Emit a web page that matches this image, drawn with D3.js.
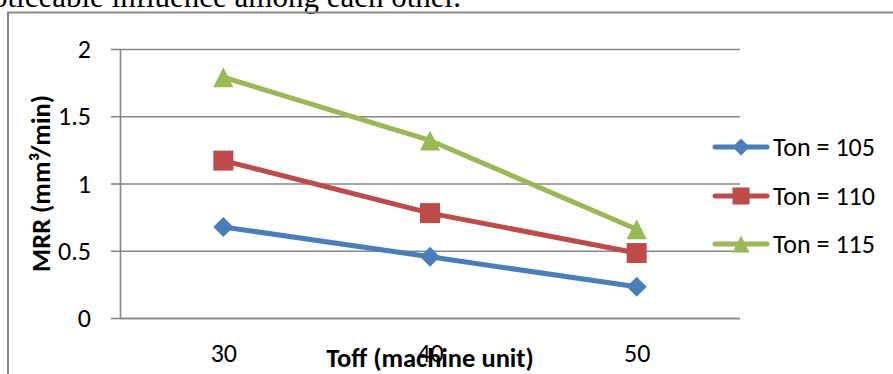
<!DOCTYPE html>
<html>
<head>
<meta charset="utf-8">
<script src="https://cdn.jsdelivr.net/npm/d3@7/dist/d3.min.js"></script>
<style>
  html, body { margin: 0; padding: 0; background: #fff; }
  svg { display: block; }
  .lab { font-family: Calibri, Carlito, Lato, "Open Sans", sans-serif; fill: #000; }
</style>
</head>
<body>
<svg id="chart" width="893" height="374"></svg>
<script>
// ---- data ----
const categories = [30, 40, 50];
const seriesNames = ["Ton = 105", "Ton = 110", "Ton = 115"];
const ton105 = [0.677, 0.455, 0.232];
const ton110 = [1.17, 0.78, 0.483];
const ton115 = [1.79, 1.32, 0.66];
const yTicks = [0, 0.5, 1, 1.5, 2];
const colors = ["#4A7EBB", "#BE4B48", "#98B954"];
const markers = ["diamond", "square", "triangle"];
const xTitle = "Toff (machine unit)";
const yTitle = "MRR (mm³/min)";
const caption = "noticeable influence among each other.";

const seriesValues = [ton105, ton110, ton115];

const svg = d3.select("#chart");
const W = 893, H = 374;
const plot = { left: 120, right: 740, top: 49, bottom: 318 };

// caption text of the surrounding document (cut off at top)
svg.append("text")
  .attr("x", 461).attr("y", 7)
  .attr("text-anchor", "end")
  .style("font-family", "'Liberation Serif', 'Times New Roman', serif")
  .style("font-size", "31px")
  .text(caption);

// chart frame
svg.append("path")
  .attr("d", `M8,${H} L8,12.5 L${W},12.5`)
  .attr("fill", "none").attr("stroke", "#878787").attr("stroke-width", 2);

const x = d3.scalePoint().domain(categories).range([plot.left, plot.right]).padding(0.5);
const y = d3.scaleLinear().domain([0, 2]).range([plot.bottom, plot.top]);

// gridlines
const grid = svg.append("g").attr("transform", `translate(${plot.left},0)`)
  .call(d3.axisLeft(y).tickValues(yTicks).tickSizeInner(-(plot.right - plot.left)).tickSizeOuter(0).tickFormat(""));
grid.select(".domain").remove();
grid.selectAll(".tick line").attr("stroke", "#878787").attr("stroke-width", 1.6);

// y axis with ticks and labels
const yAxis = svg.append("g").attr("transform", `translate(${plot.left},0)`)
  .call(d3.axisLeft(y).tickValues(yTicks).tickSizeInner(9).tickSizeOuter(0).tickPadding(20).tickFormat(d3.format("")));
yAxis.select(".domain").attr("stroke", "#878787").attr("stroke-width", 1.6);
yAxis.selectAll(".tick line").attr("stroke", "#878787").attr("stroke-width", 1.6);
yAxis.selectAll("text").attr("class", "lab").style("font-size", "26px").attr("fill", "#000")
  .attr("dy", "0.33em");

// x axis
const xAxis = svg.append("g").attr("transform", `translate(0,${plot.bottom})`)
  .call(d3.axisBottom(x).tickSize(0).tickPadding(44).tickFormat(d3.format("d")));
xAxis.select(".domain").attr("d", `M${plot.left},0.5H${plot.right}`).attr("stroke", "#878787").attr("stroke-width", 1.6);
xAxis.selectAll("text").attr("class", "lab").style("font-size", "26px").attr("fill", "#000").attr("dy", 0);

// axis titles
svg.append("text").attr("class", "lab")
  .attr("transform", `translate(50,${(plot.top + plot.bottom) / 2}) rotate(-90)`)
  .attr("text-anchor", "middle")
  .style("font-size", "26.5px").style("font-weight", "bold")
  .text(yTitle);

svg.append("text").attr("class", "lab")
  .attr("x", (plot.left + plot.right) / 2).attr("y", 367)
  .attr("text-anchor", "middle")
  .style("font-size", "26.5px").style("font-weight", "bold")
  .text(xTitle);

// symbols
function symbolFor(kind, size) {
  const r = size / 2;
  if (kind === "diamond") return `M0,${-r}L${r},0L0,${r}L${-r},0Z`;
  if (kind === "square") return `M${-r},${-r}H${r}V${r}H${-r}Z`;
  return `M0,${-r}L${r},${r}L${-r},${r}Z`;
}

const line = d3.line().x((d, i) => x(categories[i])).y(d => y(d));

seriesValues.forEach((vals, si) => {
  svg.append("path").datum(vals)
    .attr("d", line)
    .attr("fill", "none")
    .attr("stroke", colors[si])
    .attr("stroke-width", 5)
    .attr("stroke-linejoin", "round")
    .attr("stroke-linecap", "round");
  svg.append("g").selectAll("path").data(vals).join("path")
    .attr("transform", (d, i) => `translate(${x(categories[i])},${y(d)})`)
    .attr("d", symbolFor(markers[si], 20))
    .attr("fill", colors[si]);
});

// legend
const legendY = [147, 196, 244];
const legend = svg.append("g");
seriesNames.forEach((name, si) => {
  const g = legend.append("g").attr("transform", `translate(0,${legendY[si]})`);
  g.append("line").attr("x1", 715).attr("x2", 767).attr("y1", 0).attr("y2", 0)
    .attr("stroke", colors[si]).attr("stroke-width", 5).attr("stroke-linecap", "round");
  g.append("path").attr("transform", "translate(741,0)")
    .attr("d", symbolFor(markers[si], 17)).attr("fill", colors[si]);
  g.append("text").attr("class", "lab").attr("x", 773).attr("y", 0).attr("dy", "0.33em")
    .style("font-size", "26px").text(name);
});
</script>
</body>
</html>
